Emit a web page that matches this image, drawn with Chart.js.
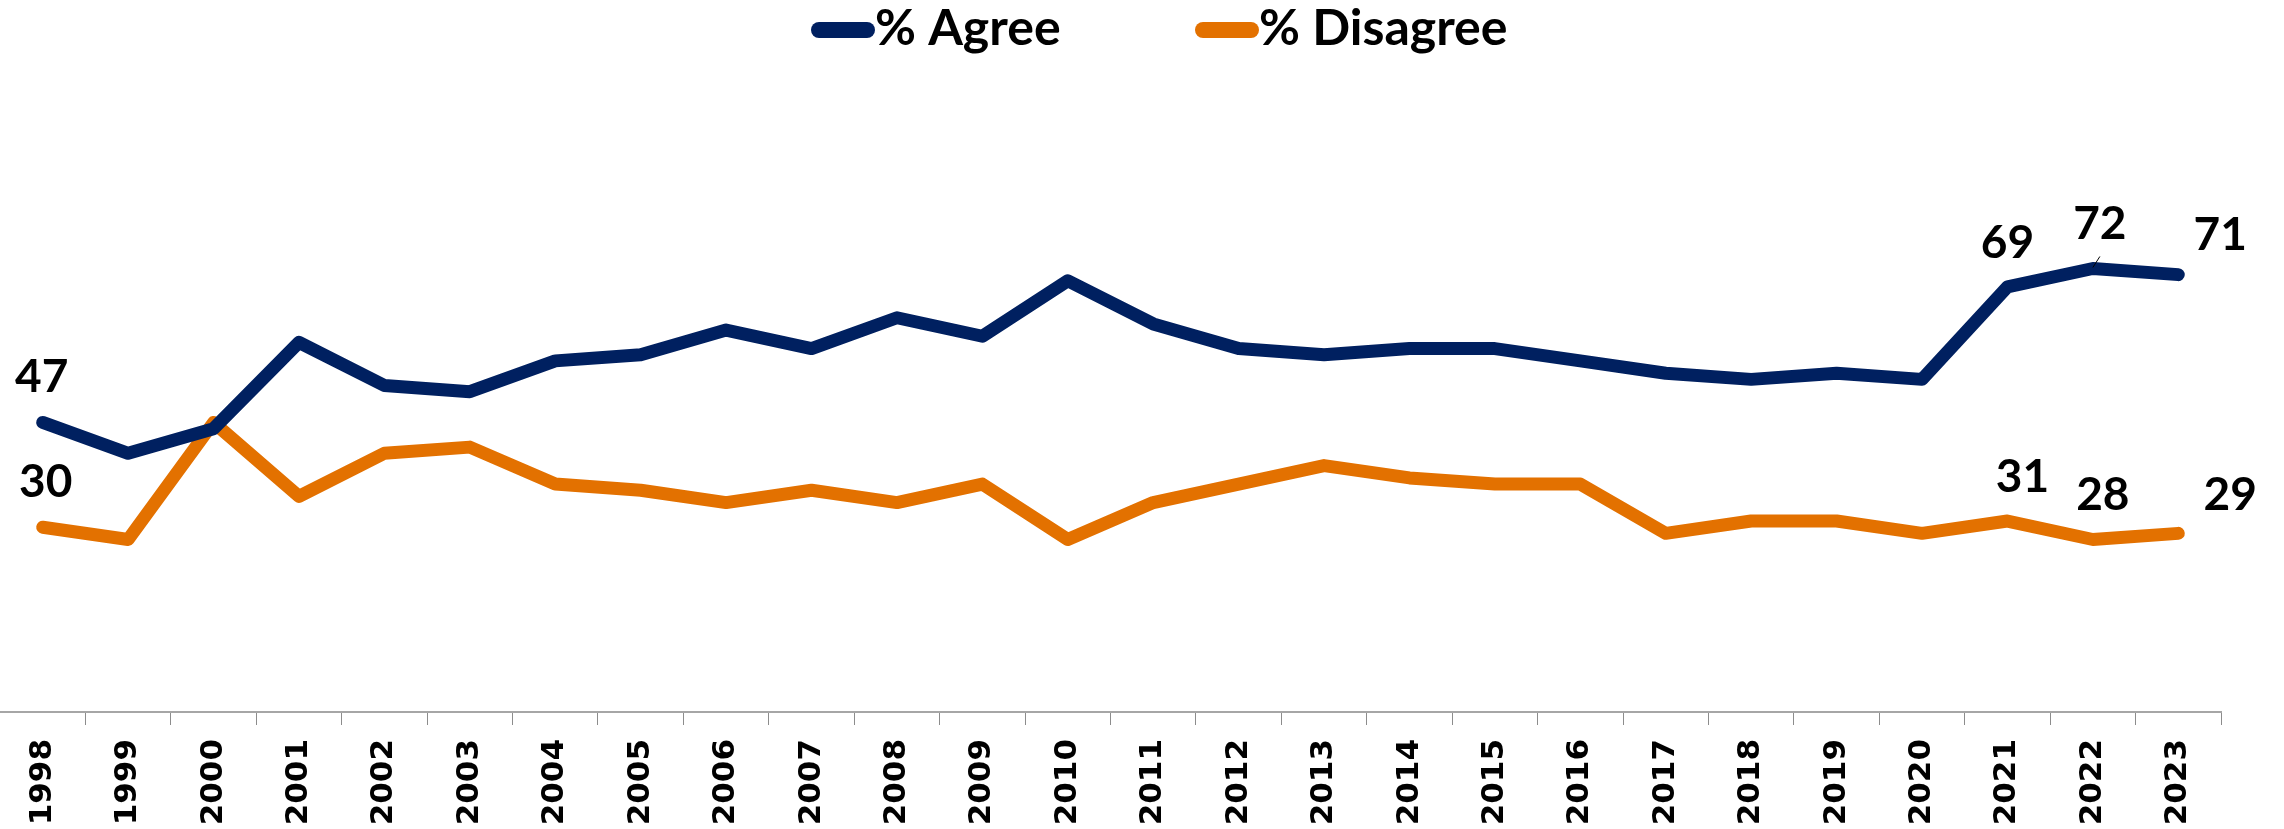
<!DOCTYPE html>
<html>
<head>
<meta charset="utf-8">
<script src="https://cdn.jsdelivr.net/npm/chart.js@4/dist/chart.umd.min.js"></script>
<style>
  html, body { margin: 0; padding: 0; background: #fff; }
  #wrap { width: 2284px; height: 829px; }
</style>
</head>
<body>
<div id="wrap"><canvas id="chart"></canvas></div>
<script>
const years = ['1998', '1999', '2000', '2001', '2002', '2003', '2004', '2005', '2006', '2007', '2008', '2009', '2010',
    '2011', '2012', '2013', '2014', '2015', '2016', '2017', '2018', '2019', '2020', '2021', '2022', '2023'];
const agree = [47, 42, 46, 60, 53, 52, 57, 58, 62, 59, 64, 61, 70, 63, 59, 58, 59, 59, 57, 55, 54, 55, 54, 69, 72, 71];
const disagree = [30, 28, 47, 35, 42, 43, 37, 36, 34, 36, 34, 37, 28, 34, 37, 40, 38, 37, 37, 29, 31, 31, 29, 31, 28, 29];
const seriesNames = ['% Agree', '% Disagree'];

const NAVY = '#002060';
const ORANGE = '#e37100';

// which points get a value label, and where it sits relative to the point
const labelSpots = [
    { 0: [-1, -47], 23: [0, -45], 24: [7, -46], 25: [42, -41] },
    { 0: [3, -47], 23: [15, -46], 24: [10, -46], 25: [52, -40] },
];

const valueLabels = {
    id: 'valueLabels',
    afterDatasetsDraw(chart) {
        const ctx = chart.ctx;
        ctx.save();
        ctx.fillStyle = '#000';
        ctx.font = 'bold 46px Lato';
        ctx.textAlign = 'center';
        ctx.textBaseline = 'alphabetic';
        chart.data.datasets.forEach((ds, d) => {
            const meta = chart.getDatasetMeta(d);
            Object.keys(labelSpots[d]).forEach(k => {
                const i = Number(k);
                const pt = meta.data[i];
                const [dx, dy] = labelSpots[d][k];
                ctx.fillText(String(ds.data[i]), pt.x + dx, pt.y + dy + 16.5);
            });
        });
        // small leader line on the 2022 agree label
        const p = chart.getDatasetMeta(0).data[24];
        ctx.strokeStyle = '#000';
        ctx.lineWidth = 1;
        ctx.beginPath();
        ctx.moveTo(p.x + 7, p.y - 12);
        ctx.lineTo(p.x, p.y - 1);
        ctx.stroke();
        ctx.restore();
    }
};

const lineLegend = {
    id: 'lineLegend',
    afterDraw(chart) {
        const ctx = chart.ctx;
        const items = [
            { x: 811, color: NAVY, text: seriesNames[0] },
            { x: 1195, color: ORANGE, text: seriesNames[1] },
        ];
        ctx.save();
        ctx.lineCap = 'round';
        ctx.lineWidth = 16;
        ctx.font = 'bold 50px Lato';
        ctx.textBaseline = 'middle';
        ctx.fillStyle = '#000';
        items.forEach(it => {
            ctx.strokeStyle = it.color;
            ctx.beginPath();
            ctx.moveTo(it.x + 8, 30);
            ctx.lineTo(it.x + 56, 30);
            ctx.stroke();
            ctx.fillText(it.text, it.x + 64, 29);
        });
        ctx.restore();
    }
};

new Chart(document.getElementById('chart'), {
    type: 'line',
    data: {
        labels: years,
        datasets: [
            {
                label: seriesNames[0],
                data: agree,
                borderColor: NAVY,
                backgroundColor: NAVY,
                borderWidth: 13,
                borderCapStyle: 'round',
                borderJoinStyle: 'round',
                pointRadius: 0,
                tension: 0,
            },
            {
                label: seriesNames[1],
                data: disagree,
                borderColor: ORANGE,
                backgroundColor: ORANGE,
                borderWidth: 13,
                borderCapStyle: 'round',
                borderJoinStyle: 'round',
                pointRadius: 0,
                tension: 0,
            },
        ],
    },
    options: {
        responsive: true,
        maintainAspectRatio: false,
        animation: false,
        layout: {
            padding: { top: 96, right: 63, left: 0, bottom: 0 },
        },
        plugins: {
            legend: { display: false },
            tooltip: { enabled: false },
        },
        scales: {
            x: {
                offset: true,
                afterFit(scale) {
                    scale.height = 117;
                },
                border: { color: '#a6a6a6', width: 2 },
                grid: {
                    offset: true,
                    drawOnChartArea: false,
                    tickLength: 13,
                    color: ctx => (ctx.index === 0 ? 'rgba(0,0,0,0)' : '#8c8c8c'),
                    lineWidth: 1,
                },
                ticks: {
                    autoSkip: false,
                    minRotation: 90,
                    maxRotation: 90,
                    padding: 14,
                    color: '#000',
                    font: { family: 'DejaVu Sans', weight: 'bold', size: 31 },
                },
            },
            y: {
                display: false,
                min: 0,
                max: 100,
            },
        },
    },
    plugins: [valueLabels, lineLegend],
});
</script>
</body>
</html>
